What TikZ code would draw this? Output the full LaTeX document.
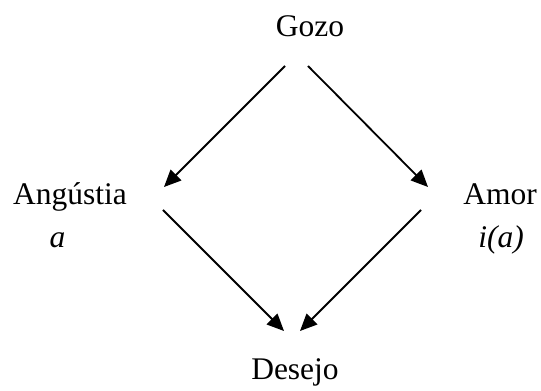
\documentclass[tikz,border=0pt]{standalone}
\usepackage{fontspec}
\setmainfont{Liberation Serif}
\usetikzlibrary{arrows.meta}
\begin{document}
\begin{tikzpicture}[x=1pt,y=1pt,
  lbl/.style={inner sep=0pt,anchor=base,font=\fontsize{31.5}{37}\selectfont},
  conn/.style={line width=1.8pt,-{Triangle[length=17pt,width=15pt]}}]
\useasboundingbox (0,0) rectangle (541,391);
\node[lbl] (gozo) at (310,354) {Gozo};
\node[lbl] (ang) at (70,186) {Angústia};
\node[lbl] (a) at (57.5,143) {\itshape a};
\node[lbl] (amor) at (500,186) {Amor};
\node[lbl] (ia) at (501,143) {\itshape i(a)};
\node[lbl] (des) at (295,11) {Desejo};
\coordinate (g1) at (285,325);
\coordinate (g2) at (308,325);
\coordinate (at) at (164,204);
\coordinate (as) at (163,181);
\coordinate (mt) at (428,204);
\coordinate (ms) at (421,181);
\coordinate (d1) at (284,60);
\coordinate (d2) at (300,60);
\draw[conn] (g1) -- (at);
\draw[conn] (g2) -- (mt);
\draw[conn] (as) -- (d1);
\draw[conn] (ms) -- (d2);
\end{tikzpicture}
\end{document}
